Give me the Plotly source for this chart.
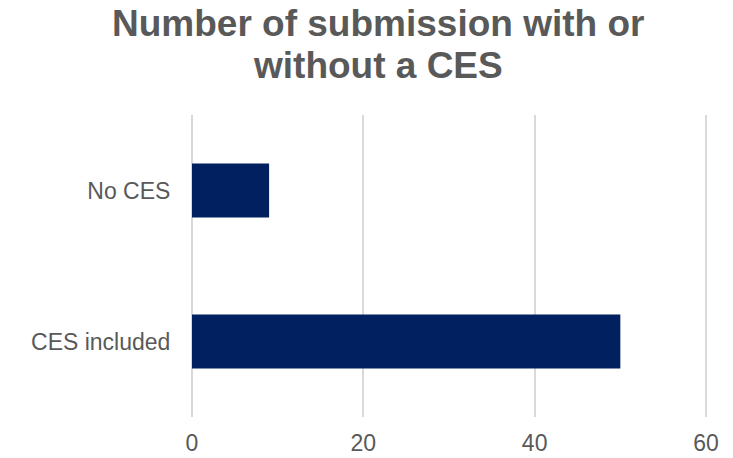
import plotly.graph_objects as go

categories = ["CES included", "No CES"]
values = [50, 9]
x_ticks = [0, 20, 40, 60]
title_lines = ["Number of submission with or", "without a CES"]

W, H = 733, 458
L, R, T, B = 190, 25, 115, 41
ph = H - T - B
pw = W - L - R
pad_units = 0.233

fig = go.Figure(go.Bar(
    y=categories, x=values, orientation="h",
    marker=dict(color="#002060", line=dict(width=0)),
    hoverinfo="skip",
))

def py2paper(py):
    return (H - B - py) / ph

def px2paper(px):
    return (px - L) / pw

anns = []
for line, cy in zip(title_lines, [23.5, 65.5]):
    anns.append(dict(
        text="<b>%s</b>" % line, x=px2paper(378), y=py2paper(cy),
        xref="paper", yref="paper", xanchor="center", yanchor="middle",
        showarrow=False, font=dict(family="Liberation Sans", size=37, color="#595959"),
    ))

fig.update_layout(
    width=W, height=H,
    margin=dict(l=L, r=R, t=T, b=B, pad=0),
    paper_bgcolor="white", plot_bgcolor="white",
    bargap=0.643,
    showlegend=False,
    font=dict(family="Liberation Sans", size=23, color="#595959"),
    annotations=anns,
    xaxis=dict(
        range=[-pad_units, x_ticks[-1] + pad_units], tickvals=x_ticks, showgrid=True,
        gridcolor="#d9d9d9", gridwidth=2,
        zeroline=False, showline=False, ticks="outside", ticklen=5, tickcolor="rgba(0,0,0,0)",
        tickfont=dict(size=23, color="#595959"), fixedrange=True, automargin=False,
    ),
    yaxis=dict(
        showgrid=False, zeroline=False, showline=False, ticks="outside", ticklen=14,
        tickcolor="rgba(0,0,0,0)", tickfont=dict(size=23, color="#595959"),
        categoryorder="array", categoryarray=categories, fixedrange=True, automargin=False,
    ),
)

fig.write_html("out.html", config={"displayModeBar": False})
